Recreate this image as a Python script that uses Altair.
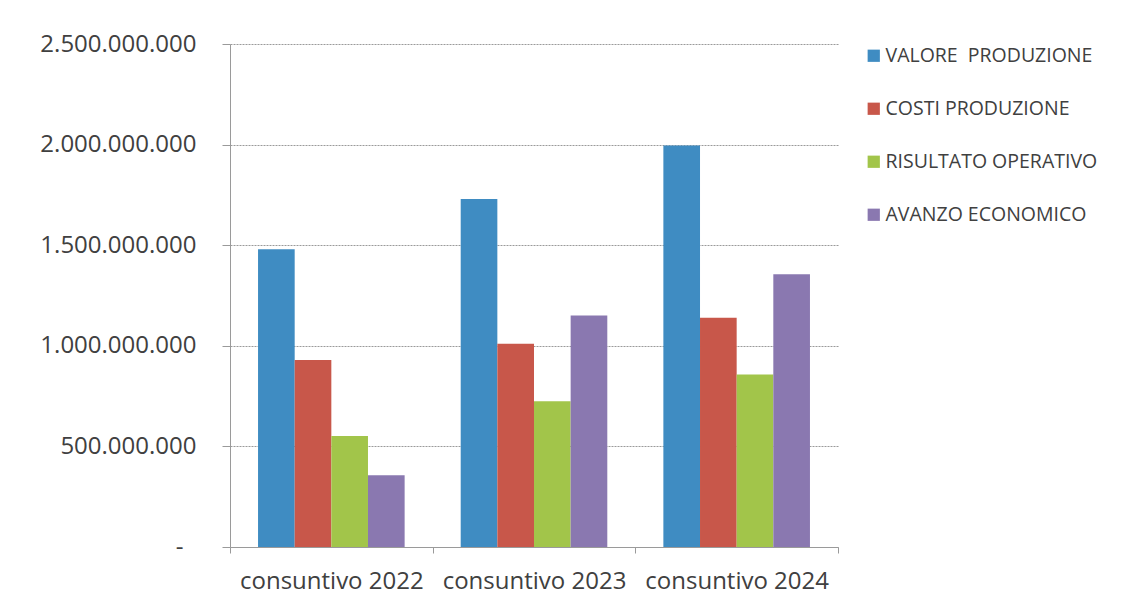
import altair as alt
import pandas as pd

categories = ["consuntivo 2022", "consuntivo 2023", "consuntivo 2024"]
series = ["VALORE\u00a0\u00a0PRODUZIONE", "COSTI PRODUZIONE", "RISULTATO OPERATIVO", "AVANZO ECONOMICO"]
valore_produzione = [1480000000, 1730000000, 1995000000]
costi_produzione = [930000000, 1010000000, 1140000000]
risultato_operativo = [552000000, 725000000, 857000000]
avanzo_economico = [357000000, 1150000000, 1355000000]
colors = ["#3F8CC2", "#C8574A", "#A2C54A", "#8A78B0"]

values_by_series = [valore_produzione, costi_produzione, risultato_operativo, avanzo_economico]
rows = []
for s, vals in zip(series, values_by_series):
    for c, v in zip(categories, vals):
        rows.append({"categoria": c, "serie": s, "valore": v})
df = pd.DataFrame(rows)

FONT = "Open Sans"

chart = alt.Chart(df).mark_bar().encode(
    x=alt.X("categoria:N", sort=categories, title=None,
            scale=alt.Scale(paddingInner=0, paddingOuter=0),
            axis=alt.Axis(labelAngle=0, labelFontSize=24, labelFont=FONT, labelColor="#404040",
                          labelPadding=16, labelLimit=400, tickBand="extent", tickSize=6,
                          tickColor="#9a9a9a", domainColor="#9a9a9a", grid=False)),
    xOffset=alt.XOffset("serie:N", sort=series,
                        scale=alt.Scale(paddingInner=0, paddingOuter=0.765)),
    y=alt.Y("valore:Q", title=None,
            scale=alt.Scale(domain=[0, 2500000000]),
            axis=alt.Axis(values=[0, 500000000, 1000000000, 1500000000, 2000000000, 2500000000],
                          labelExpr="datum.value == 0 ? '-' : replace(format(datum.value, ','), regexp(',', 'g'), '.')",
                          labelFontSize=24, labelFont=FONT, labelColor="#404040",
                          labelPadding={"condition": {"test": "datum.value === 0", "value": 39}, "value": 26},
                          tickSize=8, tickColor="#9a9a9a",
                          domainColor="#9a9a9a", gridColor="#9a9a9a", gridDash=[2, 1],
                          gridWidth=1.2)),
    color=alt.Color("serie:N", sort=series,
                    scale=alt.Scale(domain=series, range=colors),
                    legend=alt.Legend(title=None, orient="none", legendX=634, legendY=2,
                                      symbolType="square", symbolSize=150, symbolStrokeWidth=0,
                                      labelFontSize=19.5, labelFont=FONT, labelColor="#404040",
                                      labelOffset=2, rowPadding=32, labelLimit=400)),
).properties(
    width=608, height=503,
    background="white",
    autosize=alt.AutoSizeParams(type="none"),
    padding={"left": 222, "top": 36, "right": 280, "bottom": 52},
).configure_view(stroke=None)

chart.save("out.html", embed_options={"renderer": "svg", "actions": False})
